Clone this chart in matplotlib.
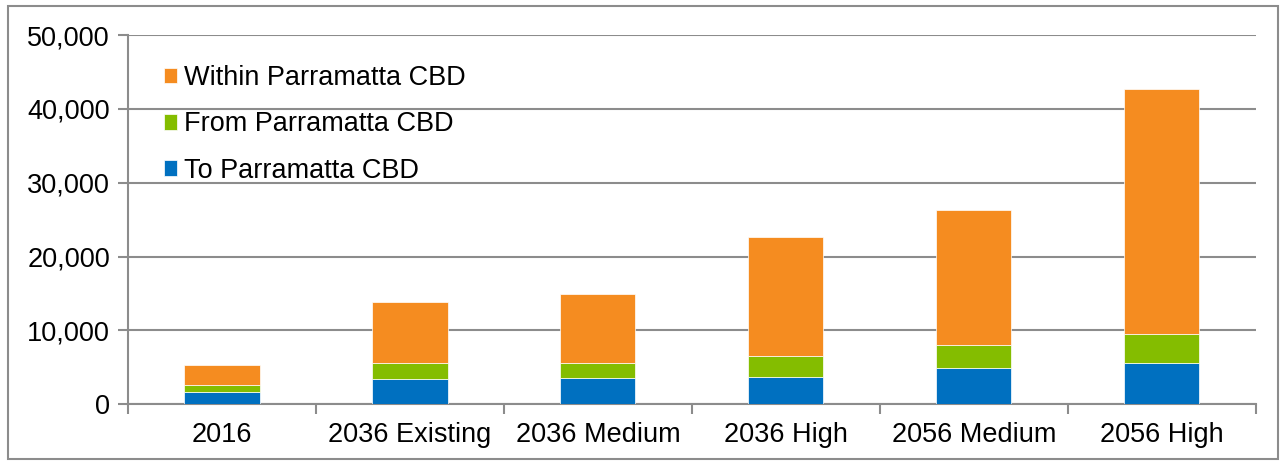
import matplotlib
matplotlib.use('Agg')
import matplotlib.pyplot as plt
from matplotlib.ticker import FuncFormatter, FixedLocator
import numpy as np

plt.rcParams['font.family'] = ['Liberation Sans', 'DejaVu Sans']

scenarios = ['2016', '2036 Existing', '2036 Medium', '2036 High', '2056 Medium', '2056 High']
to_cbd = [1650, 3450, 3550, 3750, 4950, 5550]
from_cbd = [1000, 2100, 2100, 2750, 3050, 4000]
within_cbd = [2600, 8350, 9300, 16100, 18350, 33100]

ORANGE = '#F58C20'
GREEN = '#84BD00'
BLUE = '#0070C0'
GRID = '#8C8C8C'

fig = plt.figure(figsize=(12.86, 4.63), dpi=100)
ax = fig.add_axes([0.0995, 0.127, 0.877, 0.797])

x = np.arange(len(scenarios))
w = 0.4
to_arr = np.array(to_cbd)
from_arr = np.array(from_cbd)
within_arr = np.array(within_cbd)

ax.bar(x, to_arr, w, color=BLUE, edgecolor='white', linewidth=0.5, label='To Parramatta CBD', zorder=3)
ax.bar(x, from_arr, w, bottom=to_arr, color=GREEN, edgecolor='white', linewidth=0.5,
       label='From Parramatta CBD', zorder=3)
ax.bar(x, within_arr, w, bottom=to_arr + from_arr, color=ORANGE, edgecolor='white', linewidth=0.5,
       label='Within Parramatta CBD', zorder=3)

ax.set_xlim(-0.5, len(scenarios) - 0.5)
ax.set_ylim(0, 50000)
ax.set_yticks(np.arange(0, 50001, 10000))
ax.yaxis.set_major_formatter(FuncFormatter(lambda v, p: f'{int(v):,}'))
ax.grid(axis='y', color=GRID, linewidth=1.5, zorder=0)

ax.set_xticks(x)
ax.set_xticklabels(scenarios)
ax.xaxis.set_minor_locator(FixedLocator(np.arange(-0.5, len(scenarios), 1.0)))
ax.tick_params(axis='x', which='major', length=0, pad=13, labelsize=19.5)
ax.tick_params(axis='x', which='minor', length=7, width=1.5, color=GRID)
ax.tick_params(axis='y', length=7, width=1.5, color=GRID, labelsize=19.5, pad=6)

for side in ['top', 'right']:
    ax.spines[side].set_visible(False)
for side in ['left', 'bottom']:
    ax.spines[side].set_color(GRID)
    ax.spines[side].set_linewidth(1.5)

handles, labels = ax.get_legend_handles_labels()
ax.legend(handles[::-1], labels[::-1], loc='upper left', bbox_to_anchor=(0.01, 0.985),
          frameon=False, fontsize=19.5, handlelength=0.5, handleheight=0.5,
          handletextpad=0.25, labelspacing=0.75)

fig.patches.append(plt.Rectangle((0.006, 0.008), 0.988, 0.978, transform=fig.transFigure,
                                 fill=False, edgecolor=GRID, linewidth=1.5))

plt.savefig('out.png', dpi=100)
plt.close()
